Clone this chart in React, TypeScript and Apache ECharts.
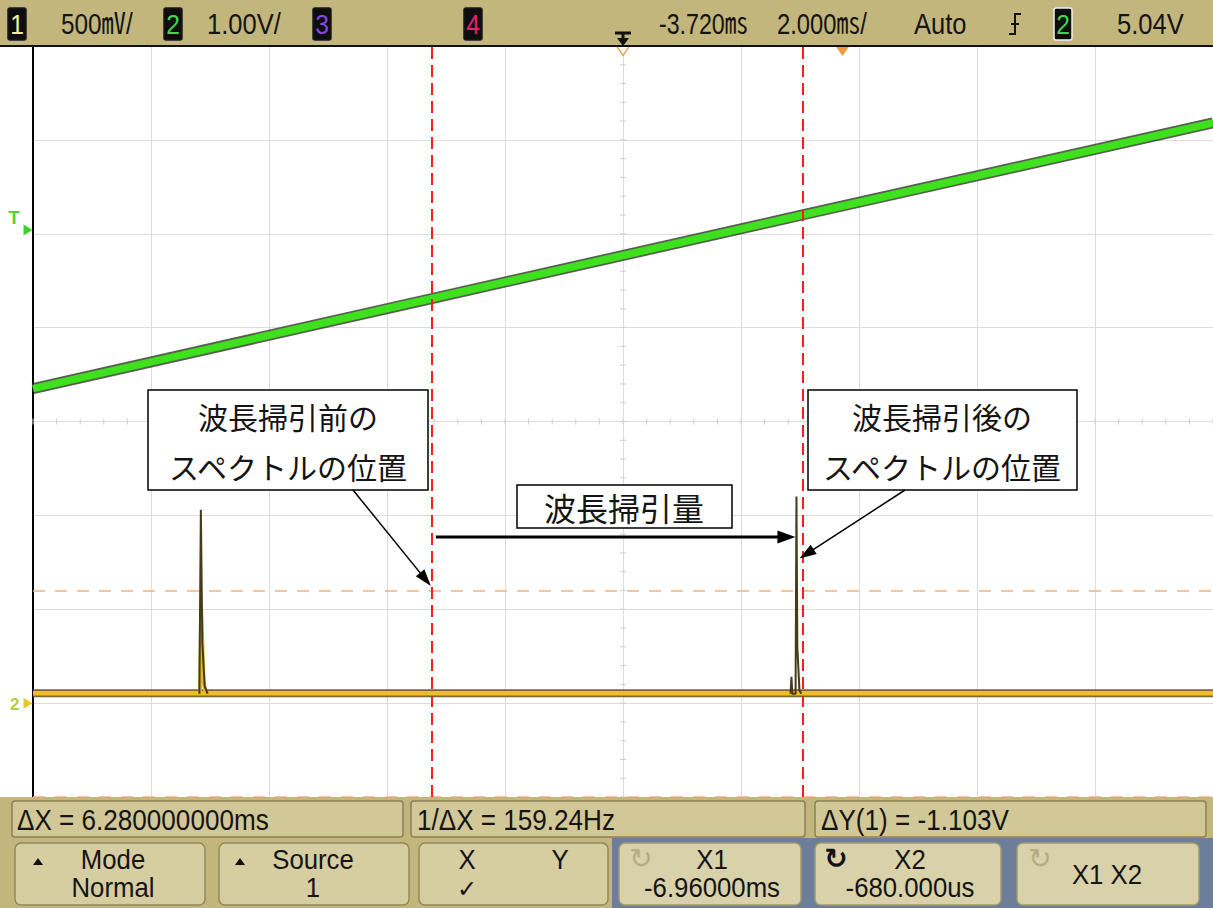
import React, { useEffect, useRef } from "react";
import * as echarts from "echarts";

// Horizontal: 2.000 ms/div, delay -3.720 ms at screen centre, 10 divisions
const TIME_MIN = -13.72;
const TIME_MAX = 6.28;
const TIME_DIV = 2;
const DELAY_MS = -3.72;
// Channel 2 (green): 1.00 V/div, channel 1 (yellow): 500 mV/div, 8 divisions
const CH2_MIN = -1;
const CH2_MAX = 7;
const CH2_CENTER = 3;
const CH1_MIN = -0.5;
const CH1_MAX = 3.5;
const TRIG_LEVEL = 5.04;
const SUBDIV = 5;

// Channel 2: wavelength sweep drive ramp [ms, V]
const rampCh2: number[][] = [
  [-13.72, 3.35],
  [-6.96, 4.31],
  [-0.68, 5.2],
  [6.28, 6.18],
];
// Channel 1: detector baseline [ms, V]
const baselineCh1: number[][] = [
  [-13.72, 0.053],
  [6.28, 0.053],
];
// Channel 1: spectral peak before the sweep
const peakBefore: number[][] = [
  [-10.9, 0.05],
  [-10.875, 1.03],
  [-10.85, 0.32],
  [-10.81, 0.09],
  [-10.76, 0.05],
];
const peakBeforeFoot: number[][] = [
  [-10.89, 0.05],
  [-10.87, 0.5],
  [-10.83, 0.12],
  [-10.79, 0.05],
];
// Channel 1: spectral peak after the sweep
const peakAfter: number[][] = [
  [-0.88, 0.05],
  [-0.865, 0.14],
  [-0.85, 0.05],
  [-0.795, 0.05],
  [-0.78, 1.1],
  [-0.765, 0.3],
  [-0.73, 0.07],
  [-0.7, 0.05],
];

// Cursors
const X1_MS = -6.96;
const X2_MS = -0.68;
const Y1_V = 0.603;
const Y2_V = -0.5;

const SANS = "'Liberation Sans','Noto Sans CJK JP',sans-serif";
const JP = "'Noto Sans CJK JP',sans-serif";
const SYM = "'DejaVu Sans',sans-serif";
const PANEL = "#c3b67d";

function txt(x: number, y: number, text: string, size: number, opts: any = {}) {
  return {
    type: "text",
    x,
    y,
    z: 120,
    scaleX: opts.sx || 1,
    silent: true,
    style: {
      text,
      fill: opts.fill || "#141414",
      fontSize: size,
      fontFamily: opts.font || SANS,
      fontWeight: opts.weight || "normal",
      align: opts.align || "left",
      verticalAlign: "middle",
    },
  };
}

// condensed instrument lettering
function lcd(x: number, y: number, text: string, size: number, opts: any = {}) {
  return txt(x, y, text, size, { sx: 0.88, ...opts });
}

function box(x: number, y: number, w: number, h: number, fill: string, stroke: string, r = 4) {
  return {
    type: "rect",
    z: 110,
    silent: true,
    shape: { x, y, width: w, height: h, r },
    style: { fill, stroke, lineWidth: 1.5 },
  };
}

function chanBox(x: number, digit: string, color: string, border = "#1a1a1a") {
  return [
    {
      type: "rect",
      z: 115,
      silent: true,
      shape: { x, y: 8, width: 18, height: 32, r: 2 },
      style: { fill: "#0d0d0d", stroke: border, lineWidth: 1.5 },
    },
    lcd(x + 9, 24, digit, 28, { fill: color, align: "center" }),
  ];
}

function seg(x1: number, y1: number, x2: number, y2: number, stroke: string, w: number, z = 120) {
  return { type: "line", z, silent: true, shape: { x1, y1, x2, y2 }, style: { stroke, lineWidth: w } };
}

function arrow(x1: number, y1: number, x2: number, y2: number, w: number, hl: number, hw: number) {
  const dx = x2 - x1;
  const dy = y2 - y1;
  const len = Math.hypot(dx, dy);
  const ux = dx / len;
  const uy = dy / len;
  const bx = x2 - ux * hl;
  const by = y2 - uy * hl;
  const px = -uy * (hw / 2);
  const py = ux * (hw / 2);
  return [
    seg(x1, y1, bx + ux * 2, by + uy * 2, "#000", w, 130),
    {
      type: "polygon",
      z: 130,
      silent: true,
      shape: { points: [[x2, y2], [bx + px, by + py], [bx - px, by - py]] },
      style: { fill: "#000" },
    },
  ];
}

function upTri(x: number, y: number) {
  return {
    type: "polygon",
    z: 120,
    silent: true,
    shape: { points: [[x, y - 4], [x - 5, y + 3], [x + 5, y + 3]] },
    style: { fill: "#111" },
  };
}

export default function App() {
  const ref = useRef<HTMLDivElement>(null);

  useEffect(() => {
    if (!ref.current) return;
    const chart = echarts.init(ref.current, undefined, { renderer: "svg" });

    const lineBase = {
      type: "line",
      symbol: "none",
      silent: true,
      animation: false,
      smooth: false,
    };

    chart.setOption({
      animation: false,
      backgroundColor: "#ffffff",
      grid: { left: 33, top: 46, width: 1180, height: 751 },
      xAxis: {
        type: "value",
        min: TIME_MIN,
        max: TIME_MAX,
        interval: TIME_DIV,
        axisLine: { show: false },
        axisTick: { show: false },
        axisLabel: { show: false },
        splitLine: { show: true, lineStyle: { color: "#dcdcdc", width: 1 } },
      },
      yAxis: [
        {
          type: "value",
          min: CH2_MIN,
          max: CH2_MAX,
          interval: 1,
          axisLine: { show: true, onZero: false, lineStyle: { color: "#000", width: 2 } },
          axisTick: { show: false },
          axisLabel: { show: false },
          splitLine: { show: true, lineStyle: { color: "#dcdcdc", width: 1 } },
        },
        {
          type: "value",
          min: CH1_MIN,
          max: CH1_MAX,
          interval: 0.5,
          show: false,
          splitLine: { show: false },
        },
      ],
      series: [
        {
          ...lineBase,
          name: "ch1-cursors",
          yAxisIndex: 1,
          data: [],
          z: 2,
          markLine: {
            silent: true,
            symbol: ["none", "none"],
            label: { show: false },
            lineStyle: { color: "#f3b37a", type: [12, 10], width: 1.5 },
            data: [{ yAxis: Y1_V }, { yAxis: Y2_V }],
          },
        },
        {
          ...lineBase,
          name: "ch2-edge",
          yAxisIndex: 0,
          data: rampCh2,
          z: 3,
          lineStyle: { color: "#1c2c12", width: 11, opacity: 0.75 },
        },
        {
          ...lineBase,
          name: "ch2",
          yAxisIndex: 0,
          data: rampCh2,
          z: 4,
          lineStyle: { color: "#3fe01e", width: 7.5 },
          markPoint: {
            silent: true,
            data: [
              {
                coord: [TIME_MIN, TRIG_LEVEL],
                symbol: "triangle",
                symbolRotate: -90,
                symbolSize: [11, 9],
                symbolOffset: [-5, 0],
                itemStyle: { color: "#3dd12a" },
                label: {
                  show: true,
                  formatter: "T",
                  position: "left",
                  offset: [1, -12],
                  color: "#4cd33a",
                  fontSize: 18,
                  fontWeight: "bold",
                  fontFamily: SANS,
                },
              },
              {
                coord: [0, CH2_MAX],
                symbol: "triangle",
                symbolRotate: 180,
                symbolSize: [14, 10],
                symbolOffset: [0, 5],
                itemStyle: { color: "#f09a3e" },
                label: { show: false },
              },
              {
                coord: [DELAY_MS, CH2_MAX],
                symbol: "triangle",
                symbolRotate: 180,
                symbolSize: [12, 9],
                symbolOffset: [0, 5],
                itemStyle: { color: "#ffffff", borderColor: "#f09a3e", borderWidth: 1.2 },
                label: { show: false },
              },
            ],
          },
        },
        {
          ...lineBase,
          name: "ch1-edge",
          yAxisIndex: 1,
          data: baselineCh1,
          z: 5,
          lineStyle: { color: "#6a5614", width: 8, opacity: 0.9 },
        },
        {
          ...lineBase,
          name: "ch1",
          yAxisIndex: 1,
          data: baselineCh1,
          z: 6,
          lineStyle: { color: "#f0bd26", width: 4.5 },
          markPoint: {
            silent: true,
            data: [
              {
                coord: [TIME_MIN, 0],
                symbol: "triangle",
                symbolRotate: -90,
                symbolSize: [11, 9],
                symbolOffset: [-5, 0],
                itemStyle: { color: "#e8c828" },
                label: {
                  show: true,
                  formatter: "2",
                  position: "left",
                  offset: [1, 1],
                  color: "#a9d23a",
                  fontSize: 17,
                  fontWeight: "bold",
                  fontFamily: SANS,
                },
              },
            ],
          },
        },
        {
          ...lineBase,
          name: "peak-before-foot",
          yAxisIndex: 1,
          data: peakBeforeFoot,
          z: 7,
          lineStyle: { color: "#e2b52a", width: 4 },
        },
        {
          ...lineBase,
          name: "peak-before",
          yAxisIndex: 1,
          data: peakBefore,
          z: 8,
          lineStyle: { color: "#463c1c", width: 2 },
        },
        {
          ...lineBase,
          name: "peak-after",
          yAxisIndex: 1,
          data: peakAfter,
          z: 8,
          lineStyle: { color: "#463c1c", width: 2 },
        },
        {
          ...lineBase,
          name: "x-cursors",
          yAxisIndex: 0,
          data: [],
          z: 12,
          markLine: {
            silent: true,
            symbol: ["none", "none"],
            label: { show: false },
            lineStyle: { color: "#ff1c1c", type: [12, 6], width: 2 },
            data: [{ xAxis: X1_MS }, { xAxis: X2_MS }],
          },
        },
      ],
    });

    const px = (t: number) => chart.convertToPixel({ xAxisIndex: 0 }, t) as number;
    const py = (v: number) => chart.convertToPixel({ yAxisIndex: 0 }, v) as number;
    const pyCh1 = (v: number) => chart.convertToPixel({ yAxisIndex: 1 }, v) as number;
    const xCur1 = px(X1_MS);
    const xPeak = px(peakAfter[4][0]);
    const xDelay = px(DELAY_MS);
    const yPeak = pyCh1(peakAfter[4][1]);
    const yCenter = py(CH2_CENTER);

    const dx = X2_MS - X1_MS;
    const dy = Y2_V - Y1_V;

    const g: any[] = [];

    // minor ticks on the centre graticule lines
    const tickColor = "#cfcfcf";
    for (let t = TIME_MIN; t <= TIME_MAX + 1e-6; t += TIME_DIV / SUBDIV) {
      const x = px(t);
      g.push(seg(x, yCenter - 3, x, yCenter + 3, tickColor, 1, 1));
    }
    for (let v = CH2_MIN; v <= CH2_MAX + 1e-6; v += 1 / SUBDIV) {
      const y = py(v);
      g.push(seg(xDelay - 3, y, xDelay + 3, y, tickColor, 1, 1));
    }

    // status line
    g.push({
      type: "rect",
      z: 100,
      silent: true,
      shape: { x: 0, y: 0, width: 1213, height: 46 },
      style: { fill: PANEL },
    });
    g.push(seg(0, 46, 1213, 46, "#111", 2, 101));
    g.push(...chanBox(8, "1", "#f4ec9a"));
    g.push(lcd(61, 24, "500㎷/", 29, { sx: 0.84 }));
    g.push(...chanBox(164, "2", "#3fd84a"));
    g.push(lcd(207, 24, "1.00V/", 29));
    g.push(...chanBox(313, "3", "#8a44e0"));
    g.push(...chanBox(464, "4", "#e8226e"));
    // delay reference marker
    g.push(seg(xDelay - 8, 33, xDelay + 8, 33, "#111", 3));
    g.push(seg(xDelay, 33, xDelay, 39, "#111", 3));
    g.push({
      type: "polygon",
      z: 120,
      silent: true,
      shape: { points: [[xDelay - 6, 38], [xDelay + 6, 38], [xDelay, 46]] },
      style: { fill: "#111" },
    });
    g.push(lcd(659, 24, "-3.720㎳", 29, { sx: 0.8 }));
    g.push(lcd(777, 24, "2.000㎳/", 29, { sx: 0.82 }));
    g.push(lcd(914, 24, "Auto", 29));
    // rising-edge trigger symbol
    g.push({
      type: "polyline",
      z: 120,
      silent: true,
      shape: { points: [[1009, 34], [1015, 34], [1015, 14], [1021, 14]] },
      style: { stroke: "#111", lineWidth: 2, fill: "none" },
    });
    g.push(seg(1011, 24, 1019, 24, "#111", 2));
    g.push(...chanBox(1054, "2", "#3fd84a", "#f0f0f0"));
    g.push(lcd(1117, 24, "5.04V", 29));

    // softkey panel
    g.push({
      type: "rect",
      z: 100,
      silent: true,
      shape: { x: 0, y: 797, width: 1213, height: 111 },
      style: { fill: PANEL },
    });
    g.push({
      type: "rect",
      z: 101,
      silent: true,
      shape: { x: 612, y: 838, width: 601, height: 70 },
      style: { fill: "#6c7e99" },
    });
    g.push(box(12, 801, 391, 36, "#d2c897", "#8a8055", 3));
    g.push(box(411, 801, 394, 36, "#d2c897", "#8a8055", 3));
    g.push(box(815, 801, 391, 36, "#d2c897", "#8a8055", 3));
    const big = { sx: 0.9 };
    g.push(lcd(17, 820, `ΔX = ${dx.toFixed(9)}ms`, 29, big));
    g.push(lcd(417, 820, `1/ΔX = ${(1000 / dx).toFixed(2)}Hz`, 29, big));
    g.push(lcd(821, 820, `ΔY(1) = ${dy.toFixed(3)}V`, 29, big));

    const keyFill = "#d6cda1";
    const keyStroke = "#938859";
    g.push(box(15, 843, 190, 62, keyFill, keyStroke, 6));
    g.push(box(219, 843, 190, 62, keyFill, keyStroke, 6));
    g.push(box(419, 843, 189, 62, keyFill, keyStroke, 6));
    g.push(box(619, 843, 182, 62, "#d9d1a9", "#a39a70", 6));
    g.push(box(815, 843, 186, 62, "#d9d1a9", "#a39a70", 6));
    g.push(box(1017, 843, 182, 62, "#d9d1a9", "#a39a70", 6));

    const key = { align: "center", sx: 0.92 };
    g.push(upTri(38, 862));
    g.push(lcd(113, 860, "Mode", 28, key));
    g.push(lcd(113, 888, "Normal", 28, key));
    g.push(upTri(240, 862));
    g.push(lcd(313, 860, "Source", 28, key));
    g.push(lcd(313, 888, "1", 28, key));
    g.push(lcd(467, 860, "X", 28, key));
    g.push(lcd(560, 860, "Y", 28, key));
    g.push(txt(467, 889, "✓", 24, { align: "center", font: SYM }));
    g.push(txt(641, 858, "↻", 28, { align: "center", fill: "#b5ac85", font: SYM }));
    g.push(lcd(712, 860, "X1", 28, key));
    g.push(lcd(712, 888, `${X1_MS.toFixed(5)}ms`, 28, key));
    g.push(txt(836, 858, "↻", 28, { align: "center", fill: "#111", font: SYM, weight: "bold" }));
    g.push(lcd(910, 860, "X2", 28, key));
    g.push(lcd(910, 888, `${(X2_MS * 1000).toFixed(3)}us`, 28, key));
    g.push(txt(1040, 858, "↻", 28, { align: "center", fill: "#b5ac85", font: SYM }));
    g.push(lcd(1107, 875, "X1 X2", 28, key));

    // annotation: position before the sweep
    g.push(box(148, 390, 280, 100, "#ffffff", "#000000", 0));
    g.push(txt(288, 416, "波長掃引前の", 30, { align: "center", font: JP }));
    g.push(txt(288, 466, "スペクトルの位置", 30, { align: "center", font: JP }));
    g.push(...arrow(353, 490, xCur1 - 1, 586, 1.5, 17, 11));

    // annotation: position after the sweep
    g.push(box(808, 390, 269, 100, "#ffffff", "#000000", 0));
    g.push(txt(942, 416, "波長掃引後の", 30, { align: "center", font: JP }));
    g.push(txt(942, 466, "スペクトルの位置", 30, { align: "center", font: JP }));
    g.push(...arrow(905, 490, xPeak + 3, yPeak + 62, 1.5, 17, 11));

    // annotation: sweep amount
    g.push(box(517, 485, 215, 43, "#ffffff", "#000000", 0));
    g.push(txt(624, 507, "波長掃引量", 32, { align: "center", font: JP }));
    g.push(...arrow(xCur1 + 4, 537, xPeak - 1, 537, 3, 18, 13));

    chart.setOption({ graphic: g });

    return () => chart.dispose();
  }, []);

  return (
    <div
      ref={ref}
      style={{ position: "fixed", left: 0, top: 0, width: 1213, height: 908, background: "#fff" }}
    />
  );
}
